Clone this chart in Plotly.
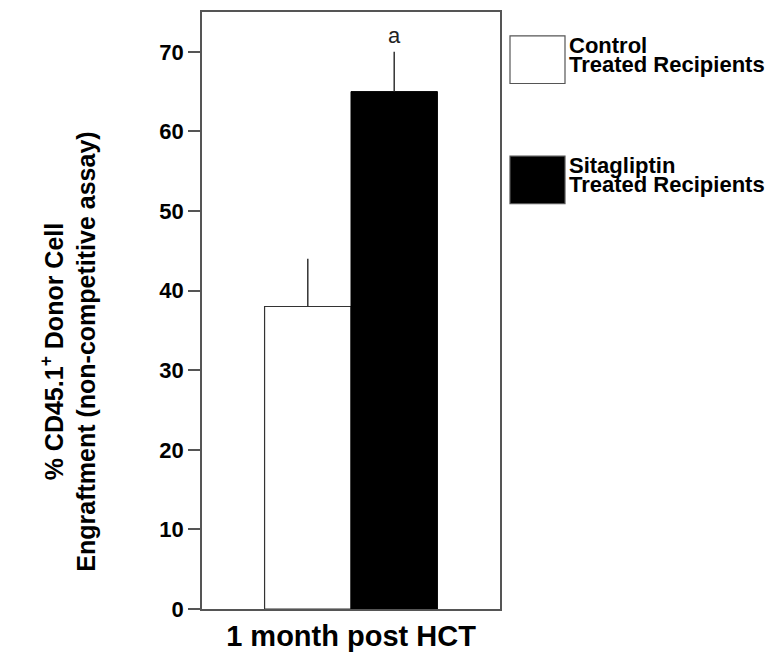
import plotly.graph_objects as go

categories = ["1 month post HCT"]
control_values = [38]
control_err = [6]
sita_values = [65]
sita_err = [5]
sig_label = "a"
y_ticks = [0, 10, 20, 30, 40, 50, 60, 70]
legend_line1 = ["Control", "Sitagliptin"]
legend_line2 = ["Treated Recipients", "Treated Recipients"]
legend_fill = ["white", "black"]

FONT = "Liberation Sans, Arial, sans-serif"
BAR_W = 0.29

# page has an 8px body margin; figure sized to fit the window
W, H = 768, 646
PL, PR, PT, PB = 202, 500, 10, 611  # plot area in screen pixels


def px_x(px):
    return (px - PL) / (PR - PL)


def px_y(py):
    return (PB - py) / (PB - PT)


fig = go.Figure()
fig.add_trace(go.Bar(
    x=categories, y=control_values, name="Control Treated Recipients",
    width=BAR_W, offset=-BAR_W,
    marker=dict(color="white", line=dict(color="#333", width=1.2)),
    error_y=dict(type="data", array=control_err, arrayminus=[0] * len(control_err),
                 symmetric=False, color="#333", thickness=1.5, width=0),
    showlegend=False,
))
fig.add_trace(go.Bar(
    x=categories, y=sita_values, name="Sitagliptin Treated Recipients",
    width=BAR_W, offset=0,
    marker=dict(color="black", line=dict(color="black", width=1)),
    error_y=dict(type="data", array=sita_err, arrayminus=[0] * len(sita_err),
                 symmetric=False, color="#333", thickness=1.5, width=0),
    showlegend=False,
))

# significance label above the Sitagliptin error bar
fig.add_annotation(x=BAR_W / 2, y=sita_values[0] + sita_err[0], xref="x", yref="y",
                   text=sig_label, showarrow=False, yanchor="bottom", yshift=2,
                   font=dict(family=FONT, size=22, color="#222"))

# custom legend (large swatches)
box_tops = [34, 155]
for fill, l1, l2, top in zip(legend_fill, legend_line1, legend_line2, box_tops):
    fig.add_shape(type="rect", xref="paper", yref="paper",
                  x0=px_x(510), x1=px_x(565), y0=px_y(top + 48), y1=px_y(top),
                  fillcolor=fill, line=dict(color="#555", width=1.2))
    for text, yc in ((l1, top + 10), (l2, top + 29)):
        fig.add_annotation(xref="paper", yref="paper",
                           x=px_x(567), y=px_y(yc),
                           xanchor="left", yanchor="middle", showarrow=False,
                           text=text, font=dict(family=FONT, size=22, color="black", weight="bold"))

# y-axis title
fig.add_annotation(xref="paper", yref="paper", x=px_x(68), y=px_y(352),
                   textangle=-90, showarrow=False, xanchor="center", yanchor="middle",
                   text="% CD45.1<sup>+</sup> Donor Cell<br>Engraftment (non-competitive assay)",
                   font=dict(family=FONT, size=25, color="black", weight="bold"))

fig.update_layout(
    width=W, height=H,
    margin=dict(l=PL - 8, r=W - (PR - 8), t=PT - 8, b=H - (PB - 8)),
    paper_bgcolor="white", plot_bgcolor="white",
    barmode="overlay",
    font=dict(family=FONT),
)
fig.update_xaxes(
    range=[-0.5, 0.5], showline=True, mirror=True, linecolor="#555", linewidth=1.8,
    ticks="", showgrid=False,
    tickfont=dict(family=FONT, size=29, color="black", weight="bold"),
)
fig.update_yaxes(
    range=[0, 75], tickvals=y_ticks, showline=True, mirror=True, linecolor="#555", linewidth=1.8,
    ticks="outside", ticklen=12, tickwidth=1.5, tickcolor="#555", showgrid=False, zeroline=False,
    tickfont=dict(family=FONT, size=22, color="black", weight="bold"),
)

fig.write_html("out.html")
